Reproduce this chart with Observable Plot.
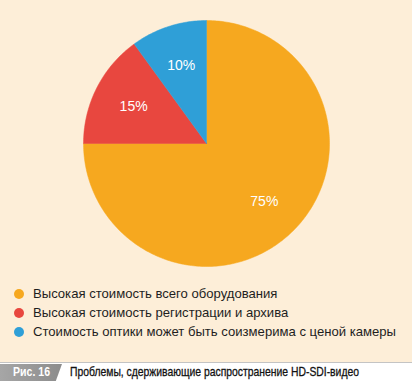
<!DOCTYPE html>
<html>
<head>
<meta charset="utf-8">
<script src="https://cdn.jsdelivr.net/npm/d3@7"></script>
<script src="https://cdn.jsdelivr.net/npm/@observablehq/plot@0.6"></script>
<style>
  html, body { margin: 0; padding: 0; background: #ffffff; }
  #wrap { width: 412px; height: 381px; position: relative; overflow: hidden; font-family: "Liberation Sans", Arial, sans-serif; }
  #panel { background: #fdeed8; width: 412px; height: 362px; position: absolute; left: 0; top: 0; }
  #legend { position: absolute; left: 0; top: 284px; width: 412px; }
  .item { height: 19px; line-height: 19px; font-size: 13.1px; color: #1e1e1e; position: relative; padding-left: 33px; white-space: nowrap; }
  .item .dot { position: absolute; left: 14px; top: 5px; width: 10px; height: 10px; border-radius: 50%; }
  #caption { position: absolute; left: 0; top: 362px; width: 412px; height: 19px; border-top: 1.5px solid #c4c4c4; box-sizing: border-box; background: #fff; }
  #fig { position: absolute; left: 0; top: 1px; width: 62px; height: 17px; background: linear-gradient(90deg, #a6a6a6, #8c8c8c); clip-path: polygon(0 0, 100% 0, 90% 100%, 0 100%); }
  #figtext { position: absolute; left: 13px; top: 1px; line-height: 17px; color: #fff; font-weight: bold; font-size: 12.5px; white-space: nowrap; transform-origin: 0 50%; }
  #ctext { position: absolute; left: 70px; top: 0; line-height: 18px; font-size: 13px; color: #111; white-space: nowrap; transform-origin: 0 50%; -webkit-text-stroke: 0.3px #111; }
</style>
</head>
<body>
<div id="wrap">
  <div id="panel"><div id="chart"></div><div id="legend"></div></div>
  <div id="caption"><div id="fig"></div><div id="figtext">Рис. 16</div><div id="ctext">Проблемы, сдерживающие распространение HD-SDI-видео</div></div>
</div>
<script>
const categories = ["Высокая стоимость всего оборудования", "Высокая стоимость регистрации и архива", "Стоимость оптики может быть соизмерима с ценой камеры"];
const values = [75, 15, 10];
const labels = ["75%", "15%", "10%"];
const colors = ["#f6a81f", "#e8473f", "#2f9fd7"];

const arcs = d3.pie().sort(null).value(d => d)(values);
const slicePoints = [];
arcs.forEach((a, i) => {
  slicePoints.push({key: categories[i], x: 0, y: 0});
  const n = Math.max(8, Math.ceil((a.endAngle - a.startAngle) * 60));
  for (let k = 0; k <= n; k++) {
    const t = a.startAngle + (a.endAngle - a.startAngle) * k / n;
    slicePoints.push({key: categories[i], x: Math.sin(t), y: Math.cos(t)});
  }
  slicePoints.push({key: categories[i], x: 0, y: 0});
});
const labelPoints = arcs.map((a, i) => {
  const m = (a.startAngle + a.endAngle) / 2;
  return {label: labels[i], x: 0.665 * Math.sin(m), y: 0.665 * Math.cos(m)};
});

const chart = Plot.plot({
  width: 412,
  height: 280,
  marginLeft: 83,
  marginRight: 83,
  marginTop: 20,
  marginBottom: 14,
  x: {domain: [-1, 1], axis: null},
  y: {domain: [-1, 1], axis: null},
  color: {domain: categories, range: colors},
  style: {background: "transparent", overflow: "visible"},
  marks: [
    Plot.line(slicePoints, {x: "x", y: "y", z: "key", fill: "key", stroke: "key", strokeWidth: 0.5, curve: "linear"}),
    Plot.text(labelPoints, {x: "x", y: "y", text: "label", fill: "#ffffff", fontSize: 14, fontFamily: "Liberation Sans, Arial, sans-serif"})
  ]
});
document.getElementById("chart").appendChild(chart);

const legend = document.getElementById("legend");
categories.forEach((c, i) => {
  const div = document.createElement("div");
  div.className = "item";
  div.innerHTML = `<span class="dot" style="background:${colors[i]}"></span>${c}`;
  legend.appendChild(div);
});

function fitWidth(id, target) {
  const el = document.getElementById(id);
  const w = el.getBoundingClientRect().width;
  if (w > 0) el.style.transform = `scaleX(${target / w})`;
}
fitWidth("ctext", 289);
fitWidth("figtext", 37);
</script>
</body>
</html>
